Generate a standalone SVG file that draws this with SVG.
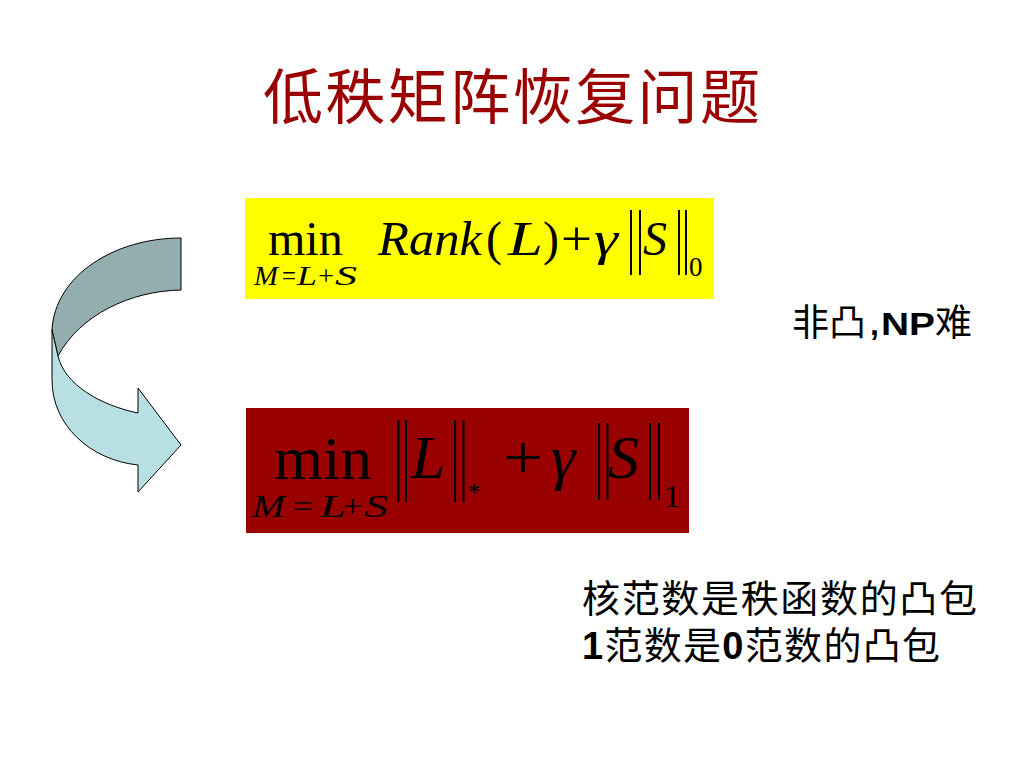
<svg xmlns="http://www.w3.org/2000/svg" width="1024" height="768" viewBox="0 0 1024 768">
<style>
.m{font-family:"Liberation Serif","Times New Roman",serif;fill:#000}
.i{font-style:italic}
.bar{stroke:#000;stroke-width:2}
.cjk{font-family:"Noto Sans CJK SC","Liberation Sans",sans-serif;fill:#000}
.b{font-family:"Liberation Sans",Arial,sans-serif;font-weight:bold}
.arw{stroke:#000;stroke-width:1;stroke-linejoin:round}
</style>
<rect width="1024" height="768" fill="#fff"/>
<g id="title">
<text x="263" y="119" font-size="60" textLength="497" lengthAdjust="spacing" class="cjk" style="fill:#9b0000">低秩矩阵恢复问题</text>
</g>
<g id="arrow">
<path class="arw" fill="#94aeb0" d="M181,238 C115,238 55,275 52,330 L58,356 C80,315 130,291 181,290 Z"/>
<path class="arw" fill="#b8dfe3" d="M52,330 L52,380 C52,425 90,460 138,465 L138,492 L181,445 L138,388 L138,413 C100,405 65,385 58,356 Z"/>
</g>
<g id="formula1">
<rect x="245" y="198" width="469" height="101" fill="#ffff00"/>
<text class="m" x="268" y="255" font-size="48">min</text>
<g class="m" font-size="27">
<text class="i" x="254" y="285" textLength="24" lengthAdjust="spacingAndGlyphs">M</text>
<text x="282" y="285" textLength="14" lengthAdjust="spacingAndGlyphs">=</text>
<text class="i" x="297" y="285" textLength="20" lengthAdjust="spacingAndGlyphs">L</text>
<text x="318" y="285" textLength="16" lengthAdjust="spacingAndGlyphs">+</text>
<text class="i" x="335" y="285" textLength="22" lengthAdjust="spacingAndGlyphs">S</text>
</g>
<g class="m" font-size="48">
<text class="i" x="378" y="255" textLength="104" lengthAdjust="spacingAndGlyphs">Rank</text>
<text x="486" y="255">(</text>
<text class="i" x="508" y="255" textLength="35" lengthAdjust="spacingAndGlyphs">L</text>
<text x="543" y="255">)</text>
<text x="561" y="255" textLength="31" lengthAdjust="spacingAndGlyphs">+</text>
<text class="i" x="594" y="255" textLength="24" lengthAdjust="spacingAndGlyphs">γ</text>
<text class="i" x="643" y="255">S</text>
</g>
<text class="m" x="689" y="276" font-size="27">0</text>
<line class="bar" x1="631" y1="210" x2="631" y2="275"/>
<line class="bar" x1="640" y1="210" x2="640" y2="275"/>
<line class="bar" x1="679" y1="210" x2="679" y2="275"/>
<line class="bar" x1="686" y1="210" x2="686" y2="275"/>
</g>
<g id="formula2">
<rect x="246" y="408" width="443" height="125" fill="#990000"/>
<text class="m" x="274" y="479" font-size="61" textLength="98" lengthAdjust="spacingAndGlyphs">min</text>
<g class="m" font-size="32">
<text class="i" x="252" y="517" textLength="33" lengthAdjust="spacingAndGlyphs">M</text>
<text x="293" y="517" textLength="20" lengthAdjust="spacingAndGlyphs">=</text>
<text class="i" x="320" y="517" textLength="26" lengthAdjust="spacingAndGlyphs">L</text>
<text x="343" y="517" textLength="19" lengthAdjust="spacingAndGlyphs">+</text>
<text class="i" x="364" y="517" textLength="24" lengthAdjust="spacingAndGlyphs">S</text>
</g>
<g class="m" font-size="62">
<text class="i" x="411" y="478">L</text>
<text x="503" y="478" textLength="40" lengthAdjust="spacingAndGlyphs">+</text>
<text class="i" x="551" y="478">γ</text>
<text class="i" x="608" y="478">S</text>
</g>
<text class="m" x="468" y="501" font-size="25">*</text>
<text class="m" x="664" y="507" font-size="32">1</text>
<line class="bar" x1="398.5" y1="420" x2="398.5" y2="502"/>
<line class="bar" x1="406" y1="420" x2="406" y2="502"/>
<line class="bar" x1="455" y1="420" x2="455" y2="502"/>
<line class="bar" x1="463.5" y1="420" x2="463.5" y2="502"/>
<line class="bar" x1="599" y1="423" x2="599" y2="500"/>
<line class="bar" x1="607.5" y1="423" x2="607.5" y2="500"/>
<line class="bar" x1="650" y1="423" x2="650" y2="500"/>
<line class="bar" x1="659" y1="423" x2="659" y2="500"/>
</g>
<g id="note1">
<text class="cjk" x="792" y="336" font-size="37">非凸</text>
<text class="b" x="870" y="335" font-size="32">,</text>
<text class="b" x="881" y="335" font-size="32" textLength="54" lengthAdjust="spacingAndGlyphs">NP</text>
<text class="cjk" x="935" y="336" font-size="37">难</text>
</g>
<g id="note2">
<text class="cjk" x="582" y="612" font-size="38" textLength="395" lengthAdjust="spacing">核范数是秩函数的凸包</text>
<text class="cjk" x="582" y="659" font-size="38" textLength="358" lengthAdjust="spacing"><tspan class="b">1</tspan>范数是<tspan class="b">0</tspan>范数的凸包</text>
</g>
</svg>
